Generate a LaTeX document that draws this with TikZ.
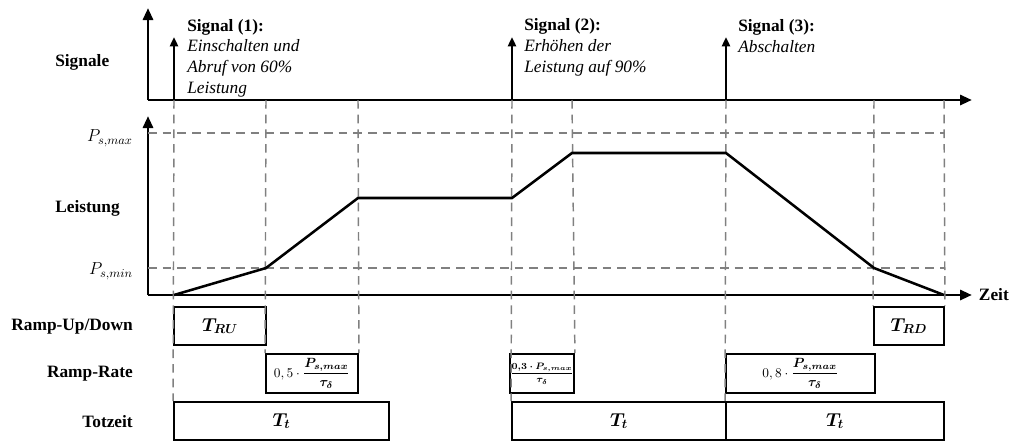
\RequirePackage{fix-cm}
\documentclass[tikz,border=0pt]{standalone}
\usepackage{fontspec}
\setmainfont{Liberation Serif}
\usepackage{amsmath, bm}
\usepackage{tikz}
\usetikzlibrary{arrows.meta, positioning}
\definecolor{rastergrau}{RGB}{128,128,128}
\tikzset{
  % Achsen und Signale
  achse/.style={-{Triangle[length=9pt,width=7.5pt]}, line width=2.2pt},
  signalpfeil/.style={-{Triangle[length=7pt,width=6pt]}, line width=1.9pt},
  raster/.style={rastergrau, line width=1.1pt, dash pattern=on 6.5pt off 4.5pt},
  kurve/.style={line width=1.9pt, line join=miter},
  % Beschriftungen
  zeile/.style={font=\fontsize{13}{15.4}\selectfont\bfseries, inner sep=0pt},
  signaltext/.style={font=\fontsize{13}{15.4}\selectfont, align=left, anchor=base west, inner sep=0pt},
  pegel/.style={font=\fontsize{13}{15.4}\selectfont, anchor=east, inner sep=0pt},
  % Kaesten
  zeitbox/.style={rectangle, draw=black, line width=1.4pt, inner sep=0pt,
    minimum height=28.5pt, font=\fontsize{14}{16}\selectfont},
  ratebox/.style={rectangle, draw=black, line width=1.4pt, inner sep=0pt,
    minimum height=29pt, font=\fontsize{10}{12}\selectfont}
}

\begin{document}
\begin{tikzpicture}[x=0.75pt, y=-0.75pt]
\useasboundingbox (0,0) rectangle (1011,440);

% Zeilenbeschriftung links
\node[zeile, anchor=west] (signale) at (55,62) {Signale};
\node[zeile, anchor=west] (leistung) at (55,208) {Leistung};
\node[zeile, anchor=east] (rampupdown) at (133,327) {Ramp-Up/Down};
\node[zeile, anchor=east] (ramprate) at (133,374) {Ramp-Rate};
\node[zeile, anchor=east] (totzeit) at (133,422) {Totzeit};

% Signalachse
\coordinate (sursprung) at (148,100);
\coordinate (soben) at (148,8);
\coordinate (srechts) at (972,100);
\draw[achse] (sursprung) -- (soben);
\draw[achse] (sursprung) -- (srechts);

% Leistungsachse
\coordinate (lursprung) at (148,295);
\coordinate (loben) at (148,116);
\coordinate (lrechts) at (972,295);
\draw[achse] (lursprung) -- (loben);
\draw[achse] (lursprung) -- (lrechts);
\node[zeile, right=5pt of lrechts] (zeit) {Zeit};

% Pegel P_s,max und P_s,min
\coordinate (pmaxL) at (148,133);
\coordinate (pmaxR) at (944,133);
\coordinate (pminL) at (148,268);
\coordinate (pminR) at (944,268);
\draw[raster] (pmaxL) -- (pmaxR);
\draw[raster] (pminL) -- (pminR);
\node[pegel] (pmax) at (133,138) {$P_{s,max}$};
\node[pegel] (pmin) at (133,271) {$P_{s,min}$};

% Signale (1) bis (3)
\coordinate (sig1) at (174,100);
\coordinate (sig1top) at (174,37);
\coordinate (sig2) at (512,100);
\coordinate (sig2top) at (512,37);
\coordinate (sig3) at (726,100);
\coordinate (sig3top) at (726,37);
\draw[signalpfeil] (sig1) -- (sig1top);
\draw[signalpfeil] (sig2) -- (sig2top);
\draw[signalpfeil] (sig3) -- (sig3top);

% Basislinie = letzte Zeile
\node[signaltext] (text1) at (187,93) {\textbf{Signal (1):}\\
  \textit{Einschalten und}\\
  \textit{Abruf von 60\%}\\
  \textit{Leistung}};
\node[signaltext] (text2) at (524,72) {\textbf{Signal (2):}\\
  \textit{Erh\"ohen der}\\
  \textit{Leistung auf 90\%}};
\node[signaltext] (text3) at (738,52) {\textbf{Signal (3):}\\
  \textit{Abschalten}};

% Kaesten Ramp-Up/Down
\node[zeitbox, minimum width=69pt] (tru) at (220,326) {$\boldsymbol{T_{RU}}$};
\node[zeitbox, minimum width=52.5pt] (trd) at (909,326) {$\boldsymbol{T_{RD}}$};

% Kaesten Ramp-Rate
\node[ratebox, minimum width=69pt] (rate1) at (312,373.5)
  {$0,5\cdot\dfrac{\boldsymbol{P_{s,max}}}{\boldsymbol{\tau_{\delta}}}$};
\node[ratebox, minimum width=45pt] (rate2) at (542,373.5)
  {\fontsize{7}{8}\selectfont$\dfrac{\boldsymbol{0{,}3\cdot P_{s,max}}}{\boldsymbol{\tau_{\delta}}}$};
\node[ratebox, minimum width=111.75pt] (rate3) at (800.5,373.5)
  {$0,8\cdot\dfrac{\boldsymbol{P_{s,max}}}{\boldsymbol{\tau_{\delta}}}$};

% Kaesten Totzeit
\node[zeitbox, minimum width=161.25pt] (tot1) at (281.5,421) {$\boldsymbol{T_{t}}$};
\node[zeitbox, minimum width=160.5pt] (tot2) at (619,421) {$\boldsymbol{T_{t}}$};
\node[zeitbox, minimum width=163.5pt] (tot3) at (835,421) {$\boldsymbol{T_{t}}$};

% Senkrechte Hilfslinien (gestrichelt)
\coordinate (g2) at (266,100);
\coordinate (g3) at (358,100);
\coordinate (g5) at (572,100);
\coordinate (g7) at (874,100);
\coordinate (g8) at (944,100);
\draw[raster] (sig1) -- (tot1.north west);
\draw[raster] (g2) -- (rate1.north west);
\draw[raster] (g3) -- (rate1.north east);
\draw[raster] (sig2) -- (tot2.north west);
\draw[raster] (g5) -- (rate2.north east);
\draw[raster] (sig3) -- (tot3.north west);
\draw[raster] (g7) -- (trd.north west);
\draw[raster] (g8) -- (trd.north east);

% Leistungsverlauf
\coordinate (p0) at (174,295);
\coordinate (p1) at (266,268);
\coordinate (p2) at (358,198);
\coordinate (p3) at (512,198);
\coordinate (p4) at (572,153);
\coordinate (p5) at (726,153);
\coordinate (p6) at (874,268);
\coordinate (p7) at (944,295);
\draw[kurve] (p0) -- (p1) -- (p2) -- (p3) -- (p4) -- (p5) -- (p6) -- (p7);

\end{tikzpicture}
\end{document}
